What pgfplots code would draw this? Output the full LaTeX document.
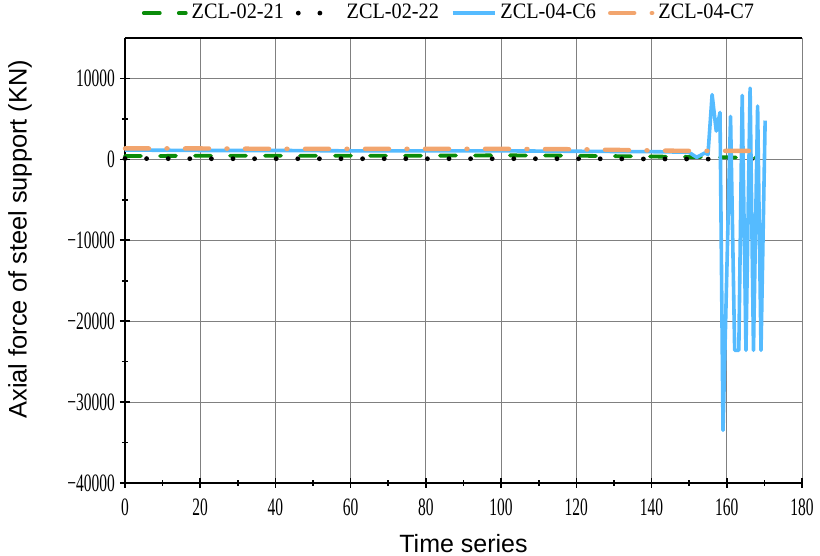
\documentclass[border=0pt]{standalone}
\usepackage{fontspec}
\setmainfont{Liberation Serif}
\setsansfont{Liberation Sans}
\newfontfamily\tickfont{Liberation Serif}[FakeStretch=0.62]
\newfontfamily\legfont{Liberation Serif}[FakeStretch=0.92]
\usepackage{pgfplots}
\pgfplotsset{compat=1.18}
\definecolor{cgreen}{HTML}{0A8C0A}
\definecolor{cblue}{HTML}{55BBFF}
\definecolor{corange}{HTML}{F2A56E}

\begin{document}
\begin{tikzpicture}
\begin{axis}[
    scale only axis,
    width=338.5pt, height=222.5pt,
    xmin=0, xmax=180, ymin=-40000, ymax=15000,
    xtick={0,20,...,180},
    ytick={-40000,-30000,-20000,-10000,0,10000},
    yticklabels={−40000,−30000,−20000,−10000,0,10000},
    scaled y ticks=false,
    minor x tick num=1, minor y tick num=1,
    axis x line*=box, axis y line*=left,
    xtick pos=bottom, ytick pos=left,
    axis line style={black, line width=1pt},
    tick align=center,
    major tick length=5pt, minor tick length=3pt,
    tick style={black, line width=0.8pt},
    grid=major,
    major grid style={black!50, line width=0.5pt},
    /pgf/number format/assume math mode=true,
    ticklabel style={font=\tickfont\fontsize{12.5}{13}\selectfont},
    xticklabel style={yshift=-2pt},
    yticklabel style={xshift=1pt},
    xlabel={Time series},
    ylabel={Axial force of steel support (KN)},
    xlabel style={font=\sffamily\fontsize{12.5}{15}\selectfont,
        at={(axis description cs:0.5,0)}, anchor=center, yshift=-30.5pt},
    ylabel style={font=\sffamily\fontsize{12.7}{15}\selectfont,
        at={(axis description cs:-0.155,0.548)}, anchor=center},
    legend columns=4,
    legend style={draw=none, fill=none, at={(0.48,1.056)}, anchor=center,
        font=\legfont\fontsize{11}{12}\selectfont,
        /tikz/every even column/.append style={column sep=4pt}},
    legend image code/.code={\draw[#1] (0pt,0pt) -- (21pt,0pt);},
    clip=false,
]
\addplot[cgreen, line width=1.9pt, line cap=round, dash pattern=on 8pt off 9.5pt] coordinates {
(0,400) (20,450) (40,450) (60,450) (80,450) (100,500) (120,450) (140,350) (150,300) (160,250) (167.5,200)};
\addlegendentry{ZCL-02-21}
\addplot[black, line width=2.4pt, line cap=round, dash pattern=on 0pt off 10.8pt] coordinates {
(0,100) (20,80) (40,80) (60,80) (80,80) (100,80) (120,80) (140,50) (150,50) (160,20) (168,0)};
\addlegendentry{ZCL-02-22}
\addplot[cblue, line width=1.8pt, line join=round] coordinates {
(0,1150) (20,1100) (40,1100) (60,1050) (80,1050) (100,1050) (120,1000) (140,950) (148,900)
(150,850) (152,250) (154.2,800) (155,600) (156.1,8000) (157.2,3500) (158.2,5800) (159,-33500)
(161,5300) (162.1,-23600) (163.2,-23600) (164.1,7900) (165.1,-23600) (166.2,8800)
(167.1,-23600) (168.2,6600) (169.1,-23600) (170.2,4800)};
\addlegendentry{ZCL-04-C6}
\addplot[corange, line width=2.2pt, line cap=round, dash pattern=on 12pt off 8.75pt on 0.5pt off 8.75pt] coordinates {
(0,1350) (20,1350) (40,1300) (60,1300) (80,1300) (100,1300) (120,1250) (140,1100) (150,1050) (160,1050) (168,1050)};
\addlegendentry{ZCL-04-C7}
\end{axis}
\pgfresetboundingbox
\path ([shift={(-62.5pt,-36.5pt)}]current axis.south west) rectangle ([shift={(9pt,19pt)}]current axis.north east);
\end{tikzpicture}
\end{document}
